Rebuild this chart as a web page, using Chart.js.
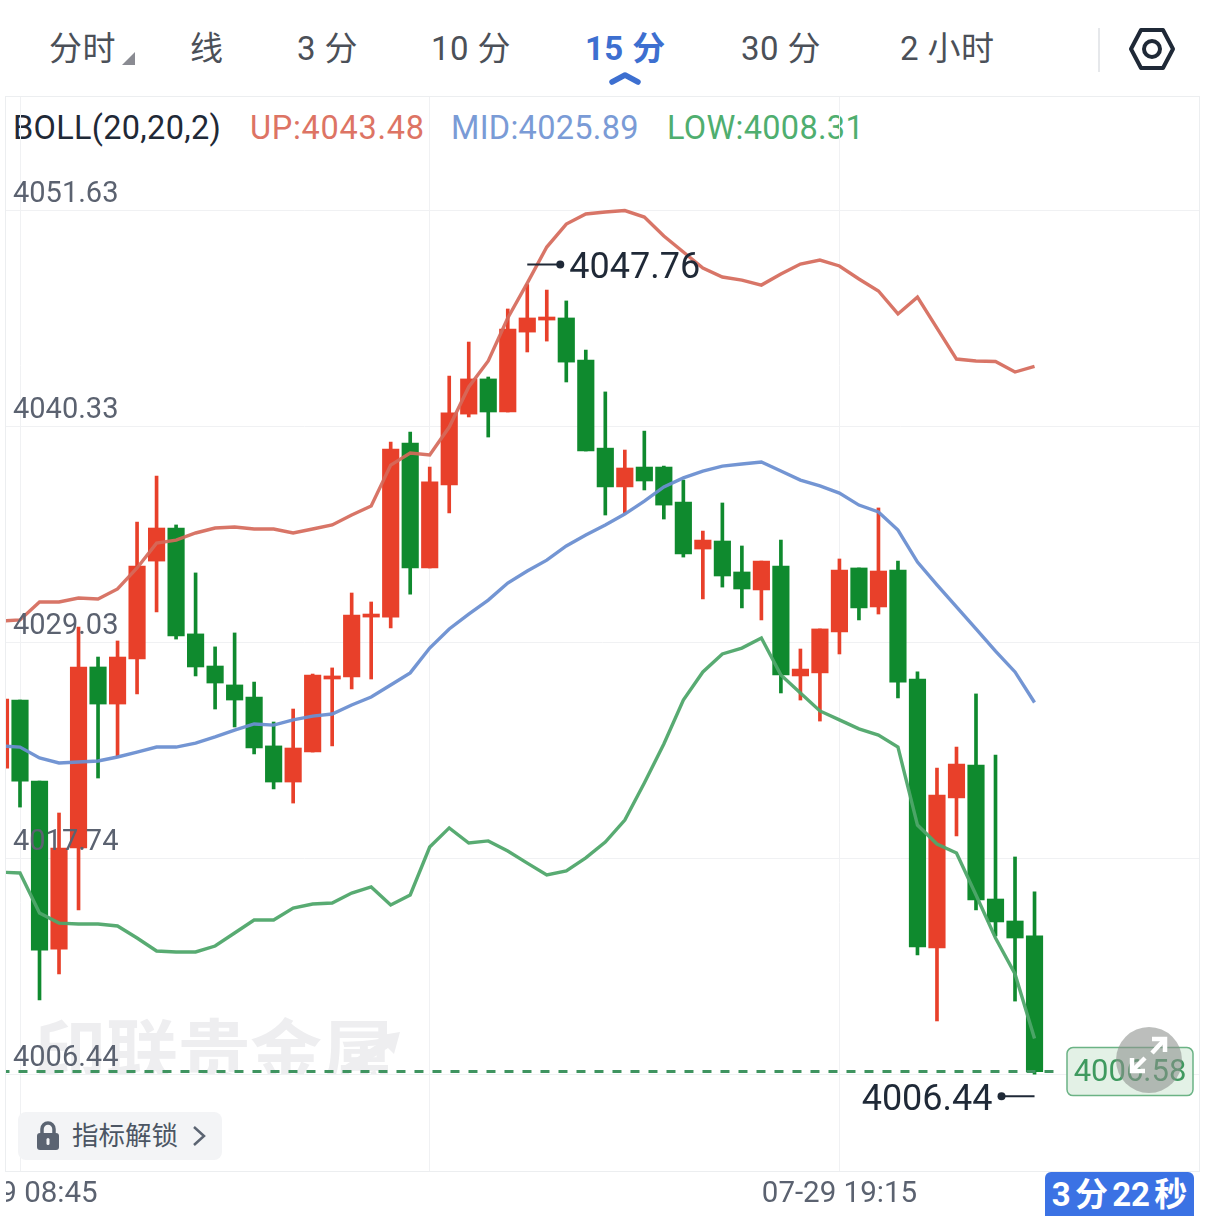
<!DOCTYPE html>
<html>
<head>
<meta charset="utf-8">
<script src="https://cdn.jsdelivr.net/npm/chart.js@4.4.0/dist/chart.umd.js"></script>
<style>
    html, body { margin: 0; padding: 0; width: 1206px; height: 1216px; overflow: hidden; background: #fff; }
    body { font-family: Roboto, "Noto Sans CJK SC", sans-serif; color: #4b5058; }
    .abs { position: absolute; white-space: nowrap; }
    .tab { top: 26px; font-size: 33px; line-height: 46px; letter-spacing: 0.4px; }
    .legend { top: 109px; font-size: 32.5px; line-height: 38px; letter-spacing: 0.3px; }
    #frame { left: 5px; top: 96px; width: 1193px; height: 1074px; border: 1px solid #eceef0; }
    #watermark { left: 34px; top: 1012px; height: 63px; overflow: hidden; font-size: 72px; line-height: 86px; font-weight: 700; color: #eeeef0; }
    #chartWrap { left: 6px; top: 97px; width: 1193px; height: 1119px; }
    #unlock { left: 18px; top: 1112px; width: 204px; height: 48px; background: #f3f4f6; border-radius: 8px; }
    #unlock span { position: absolute; left: 54px; top: 5px; font-size: 26.5px; line-height: 38px; color: #4b5563; }
    #timer { left: 1045px; top: 1172px; width: 149px; height: 44px; background: #3b72e4; border-radius: 6px 6px 0 0; color: #fff; font-size: 33px; font-weight: 700; line-height: 46px; text-align: center; word-spacing: -4px; }
</style>
</head>
<body>
    <div class="abs tab" style="left:49px">分时</div>
    <svg class="abs" style="left:121px;top:51px" width="15" height="15"><polygon points="14,1 14,14 1,14" fill="#8a8b92"/></svg>
    <div class="abs tab" style="left:190px">线</div>
    <div class="abs tab" style="left:297px">3 分</div>
    <div class="abs tab" style="left:431px">10 分</div>
    <div class="abs tab" style="left:585px;color:#3d6fd0;font-weight:700">15 分</div>
    <svg class="abs" style="left:609px;top:70px" width="32" height="16"><polyline points="3,12 16,5 29,12" fill="none" stroke="#3d6fd0" stroke-width="5.5" stroke-linecap="round" stroke-linejoin="round"/></svg>
    <div class="abs tab" style="left:741px">30 分</div>
    <div class="abs tab" style="left:900px">2 小时</div>
    <div class="abs" style="left:1098px;top:28px;width:2px;height:44px;background:#e6e8eb"></div>
    <svg class="abs" style="left:1128px;top:27px" width="48" height="44">
        <polygon points="13,3 35,3 45,22 35,41 13,41 3,22" fill="none" stroke="#1f2937" stroke-width="4" stroke-linejoin="round"/>
        <circle cx="24" cy="22" r="8" fill="none" stroke="#1f2937" stroke-width="4"/>
    </svg>

    <div id="frame" class="abs"></div>
    <div class="abs legend" style="left:13px;color:#1f2937">BOLL(20,20,2)</div>
    <div class="abs legend" style="left:250px;color:#dd7464;letter-spacing:0.7px">UP:4043.48</div>
    <div class="abs legend" style="left:451px;color:#7a9bd6">MID:4025.89</div>
    <div class="abs legend" style="left:667px;color:#4fae6f">LOW:4008.31</div>
    <div id="watermark" class="abs">印联贵金属</div>
    <svg class="abs" style="left:340px;top:1030px" width="64" height="45"><polyline points="6,40 52,10" fill="none" stroke="#eeeef0" stroke-width="9"/><polygon points="36,6 60,2 54,24" fill="#eeeef0"/></svg>

    <div id="chartWrap" class="abs"><canvas id="klineChart" width="1193" height="1119"></canvas></div>

    <div id="unlock" class="abs">
        <svg class="abs" style="left:18px;top:9px" width="24" height="30">
            <path d="M6 13 V8 a6 6 0 0 1 12 0 V13" fill="none" stroke="#5b6472" stroke-width="3.5"/>
            <rect x="1" y="12" width="22" height="17" rx="3" fill="#5b6472"/>
            <rect x="10.5" y="17" width="3" height="7" rx="1.5" fill="#f3f4f6"/>
        </svg>
        <span>指标解锁</span>
        <svg class="abs" style="left:172px;top:12px" width="18" height="24"><polyline points="4,3 14,12 4,21" fill="none" stroke="#5b6472" stroke-width="2.5"/></svg>
    </div>

    <svg class="abs" style="left:1116px;top:1027px" width="66" height="66">
        <circle cx="33" cy="33" r="33" fill="#8c8f8c" fill-opacity="0.58"/>
        <g fill="none" stroke="#fff" stroke-width="4.5">
            <polyline points="36,26 49,12"/><polyline points="36,12 49,12 49,25"/>
            <polyline points="29,31 16,44"/><polyline points="16,31 16,44 29,44"/>
        </g>
    </svg>
    <div id="timer" class="abs">3 分 22 秒</div>

<script>
// candles, oldest first, one bar per 15 minutes
const openPrices = [4022.46,4026.02,4021.78,4012.99,4018.28,4027.75,4025.81,4028.17,4033.29,4035.02,4029.48,4027.80,4026.81,4026.18,4023.62,4021.73,4023.30,4027.12,4027.23,4030.36,4030.36,4039.47,4032.93,4037.27,4040.98,4042.82,4041.09,4045.27,4045.90,4046.01,4043.81,4039.20,4037.17,4038.21,4038.21,4036.38,4033.92,4034.34,4032.72,4031.78,4033.03,4027.28,4027.44,4029.58,4032.93,4030.89,4032.82,4027.12,4013.05,4020.90,4022.62,4015.61,4014.46,4013.68];
const highPrices = [4026.07,4026.02,4021.78,4020.11,4029.84,4028.27,4029.11,4035.33,4037.74,4035.18,4032.67,4028.80,4029.53,4026.96,4024.87,4025.55,4027.38,4027.70,4031.62,4031.15,4039.52,4040.04,4038.21,4042.97,4044.75,4042.92,4046.48,4047.76,4047.47,4046.90,4044.33,4042.14,4039.10,4040.09,4038.26,4037.53,4034.86,4036.33,4034.08,4033.29,4034.39,4028.69,4029.74,4033.40,4032.93,4036.07,4033.29,4027.49,4022.46,4023.56,4026.34,4023.14,4017.81,4015.98];
const lowPrices = [4022.46,4020.42,4010.33,4011.69,4015.04,4021.94,4023.04,4026.34,4030.63,4029.21,4027.28,4025.55,4024.61,4023.20,4021.37,4020.63,4023.30,4023.62,4026.60,4027.12,4029.79,4031.56,4032.93,4035.81,4040.83,4039.78,4041.09,4044.23,4044.80,4042.66,4039.05,4035.70,4035.81,4037.01,4035.49,4033.50,4031.31,4031.93,4030.84,4030.21,4026.39,4026.02,4024.92,4028.43,4030.21,4030.52,4026.13,4012.68,4009.23,4018.91,4015.04,4013.68,4010.27,4006.44];
const closePrices = [4026.07,4021.78,4012.94,4018.28,4027.75,4025.81,4028.27,4033.03,4035.02,4029.37,4027.75,4026.91,4026.02,4023.51,4021.73,4023.51,4027.33,4027.28,4030.47,4030.52,4039.15,4032.93,4037.43,4041.04,4042.82,4041.09,4045.43,4046.01,4046.06,4043.70,4039.05,4037.17,4038.16,4037.48,4036.22,4033.66,4034.39,4032.51,4031.83,4033.29,4027.33,4027.64,4029.74,4032.82,4030.84,4032.77,4026.96,4013.10,4021.05,4022.67,4015.56,4014.41,4013.57,4006.58];

// BOLL(20,20,2) bands
const bollUp = [4030.15,4030.21,4031.15,4031.15,4031.36,4031.31,4031.83,4032.93,4034.23,4034.39,4034.76,4035.02,4035.07,4034.97,4034.97,4034.76,4034.97,4035.18,4035.70,4036.17,4038.31,4038.94,4038.84,4040.30,4042.40,4043.76,4046.01,4047.83,4049.72,4050.92,4051.45,4051.55,4051.63,4051.29,4050.30,4049.46,4048.62,4048.15,4047.99,4047.73,4048.31,4048.83,4049.04,4048.73,4048.05,4047.42,4046.22,4047.10,4045.48,4043.86,4043.76,4043.73,4043.18,4043.48];
const bollMid = [4023.62,4023.56,4022.99,4022.73,4022.78,4022.83,4023.04,4023.30,4023.56,4023.56,4023.77,4024.09,4024.45,4024.77,4024.71,4024.98,4025.18,4025.29,4025.76,4026.18,4026.81,4027.44,4028.74,4029.74,4030.52,4031.25,4032.14,4032.77,4033.34,4034.08,4034.65,4035.18,4035.75,4036.43,4037.17,4037.64,4038.00,4038.26,4038.37,4038.47,4038.00,4037.53,4037.22,4036.85,4036.22,4035.86,4034.91,4033.24,4032.04,4030.89,4029.74,4028.58,4027.49,4025.89];
const bollLow = [4017.02,4016.97,4014.88,4014.35,4014.30,4014.30,4014.20,4013.57,4012.89,4012.84,4012.84,4013.15,4013.83,4014.51,4014.51,4015.14,4015.35,4015.40,4015.92,4016.24,4015.30,4015.82,4018.33,4019.33,4018.54,4018.65,4018.12,4017.49,4016.87,4017.08,4017.76,4018.59,4019.74,4021.68,4023.72,4026.02,4027.49,4028.43,4028.74,4029.27,4027.33,4026.39,4025.45,4024.98,4024.51,4024.19,4023.56,4019.48,4018.49,4018.02,4015.82,4013.57,4011.69,4008.31];

// axis ticks
const priceTicks = [4051.63, 4040.33, 4029.03, 4017.74, 4006.44];
const timeTicks = [0, 21, 42];
const timeTickLabels = ['07-29 08:45', '', '07-29 19:15'];

const lastPrice = 4006.58;
const highLabel = '4047.76';
const lowLabel = '4006.44';

const RED = '#e8402a';
const GREEN = '#0f8a2e';
const GRID = '#f0f1f3';

const barIds = openPrices.map((v, i) => i - 1);
const candleColors = openPrices.map((v, i) => closePrices[i] >= v ? RED : GREEN);
const band = values => values.map((v, i) => ({ x: barIds[i], y: v }));

// high / low markers and the last price tag
const markers = {
    id: 'markers',
    afterDatasetsDraw(chart) {
        const ctx = chart.ctx;
        const xs = chart.scales.x;
        const ys = chart.scales.y;
        const hiBar = highPrices.indexOf(Math.max(...highPrices));
        const loBar = lowPrices.indexOf(Math.min(...lowPrices));

        ctx.save();
        ctx.strokeStyle = ctx.fillStyle = '#1f2937';
        ctx.lineWidth = 2;
        ctx.font = '36px Roboto';
        ctx.textBaseline = 'middle';

        let x = xs.getPixelForValue(barIds[hiBar]);
        let y = ys.getPixelForValue(highPrices[hiBar]) - 20;
        ctx.beginPath(); ctx.moveTo(x, y); ctx.lineTo(x + 33, y); ctx.stroke();
        ctx.beginPath(); ctx.arc(x + 33, y, 4, 0, Math.PI * 2); ctx.fill();
        ctx.textAlign = 'left';
        ctx.fillText(highLabel, x + 42, y + 4);

        x = xs.getPixelForValue(barIds[loBar]);
        y = ys.getPixelForValue(lowPrices[loBar]) + 22;
        ctx.beginPath(); ctx.moveTo(x, y); ctx.lineTo(x - 33, y); ctx.stroke();
        ctx.beginPath(); ctx.arc(x - 33, y, 4, 0, Math.PI * 2); ctx.fill();
        ctx.textAlign = 'right';
        ctx.fillText(lowLabel, x - 42, y + 5);

        // tag sits at the right of the dashed line
        y = ys.getPixelForValue(lastPrice);
        ctx.beginPath();
        ctx.roundRect(1061, y - 24, 126, 48, 6);
        ctx.fillStyle = '#e3f1e6';
        ctx.fill();
        ctx.lineWidth = 1.5;
        ctx.strokeStyle = '#6bb385';
        ctx.stroke();
        ctx.fillStyle = '#3f9a5f';
        ctx.font = '31px Roboto';
        ctx.textAlign = 'center';
        ctx.fillText(lastPrice.toFixed(2), 1124, y + 2);
        ctx.restore();
    }
};

new Chart(document.getElementById('klineChart').getContext('2d'), {
    type: 'bar',
    data: {
        datasets: [
            { type: 'line', data: band(bollUp), borderColor: 'rgba(213,105,90,0.92)', borderWidth: 3.4, pointRadius: 0, tension: 0, order: 0 },
            { type: 'line', data: band(bollMid), borderColor: 'rgba(107,143,209,0.95)', borderWidth: 3.4, pointRadius: 0, tension: 0, order: 0 },
            { type: 'line', data: band(bollLow), borderColor: 'rgba(79,166,106,0.95)', borderWidth: 3.4, pointRadius: 0, tension: 0, order: 0 },
            { type: 'line', data: [{ x: barIds[0], y: lastPrice }, { x: 53.2, y: lastPrice }], borderColor: '#3f9460', borderWidth: 3, borderDash: [9, 9], pointRadius: 0, order: 1 },
            { data: openPrices.map((v, i) => ({ x: barIds[i], y: [v, closePrices[i]] })), backgroundColor: candleColors, barThickness: 16.5, grouped: false, order: 2 },
            { data: highPrices.map((v, i) => ({ x: barIds[i], y: [lowPrices[i], v] })), backgroundColor: candleColors, barThickness: 3, grouped: false, order: 3 }
        ]
    },
    options: {
        responsive: false,
        animation: false,
        events: [],
        layout: { padding: 0 },
        plugins: { legend: { display: false }, tooltip: { enabled: false } },
        scales: {
            x: {
                type: 'linear',
                offset: false,
                min: -0.7176,
                max: 60.43,
                grid: { offset: false, color: GRID, lineWidth: 1, drawTicks: false },
                border: { display: true, color: '#eceef0' },
                ticks: {
                    autoSkip: false,
                    maxRotation: 0,
                    minRotation: 0,
                    padding: 6,
                    color: '#5b6270',
                    font: { family: 'Roboto', size: 29.5 },
                    callback: (v, i) => timeTickLabels[i]
                },
                afterBuildTicks: scale => { scale.ticks = timeTicks.map(v => ({ value: v })); },
                afterFit: scale => { scale.height = 45; scale.paddingLeft = 0; scale.paddingRight = 0; }
            },
            y: {
                type: 'linear',
                beginAtZero: false,
                min: 4001.38,
                max: 4057.57,
                grid: { color: GRID, lineWidth: 1, drawTicks: false },
                border: { display: false },
                ticks: {
                    mirror: true,
                    padding: 7,
                    labelOffset: -16,
                    z: 1,
                    color: '#5b6270',
                    font: { family: 'Roboto', size: 29 },
                    callback: v => v.toFixed(2)
                },
                afterBuildTicks: scale => { scale.ticks = priceTicks.map(v => ({ value: v })); },
                afterFit: scale => { scale.width = 0; scale.paddingTop = 0; scale.paddingBottom = 0; }
            }
        }
    },
    plugins: [markers]
});
</script>
</body>
</html>
